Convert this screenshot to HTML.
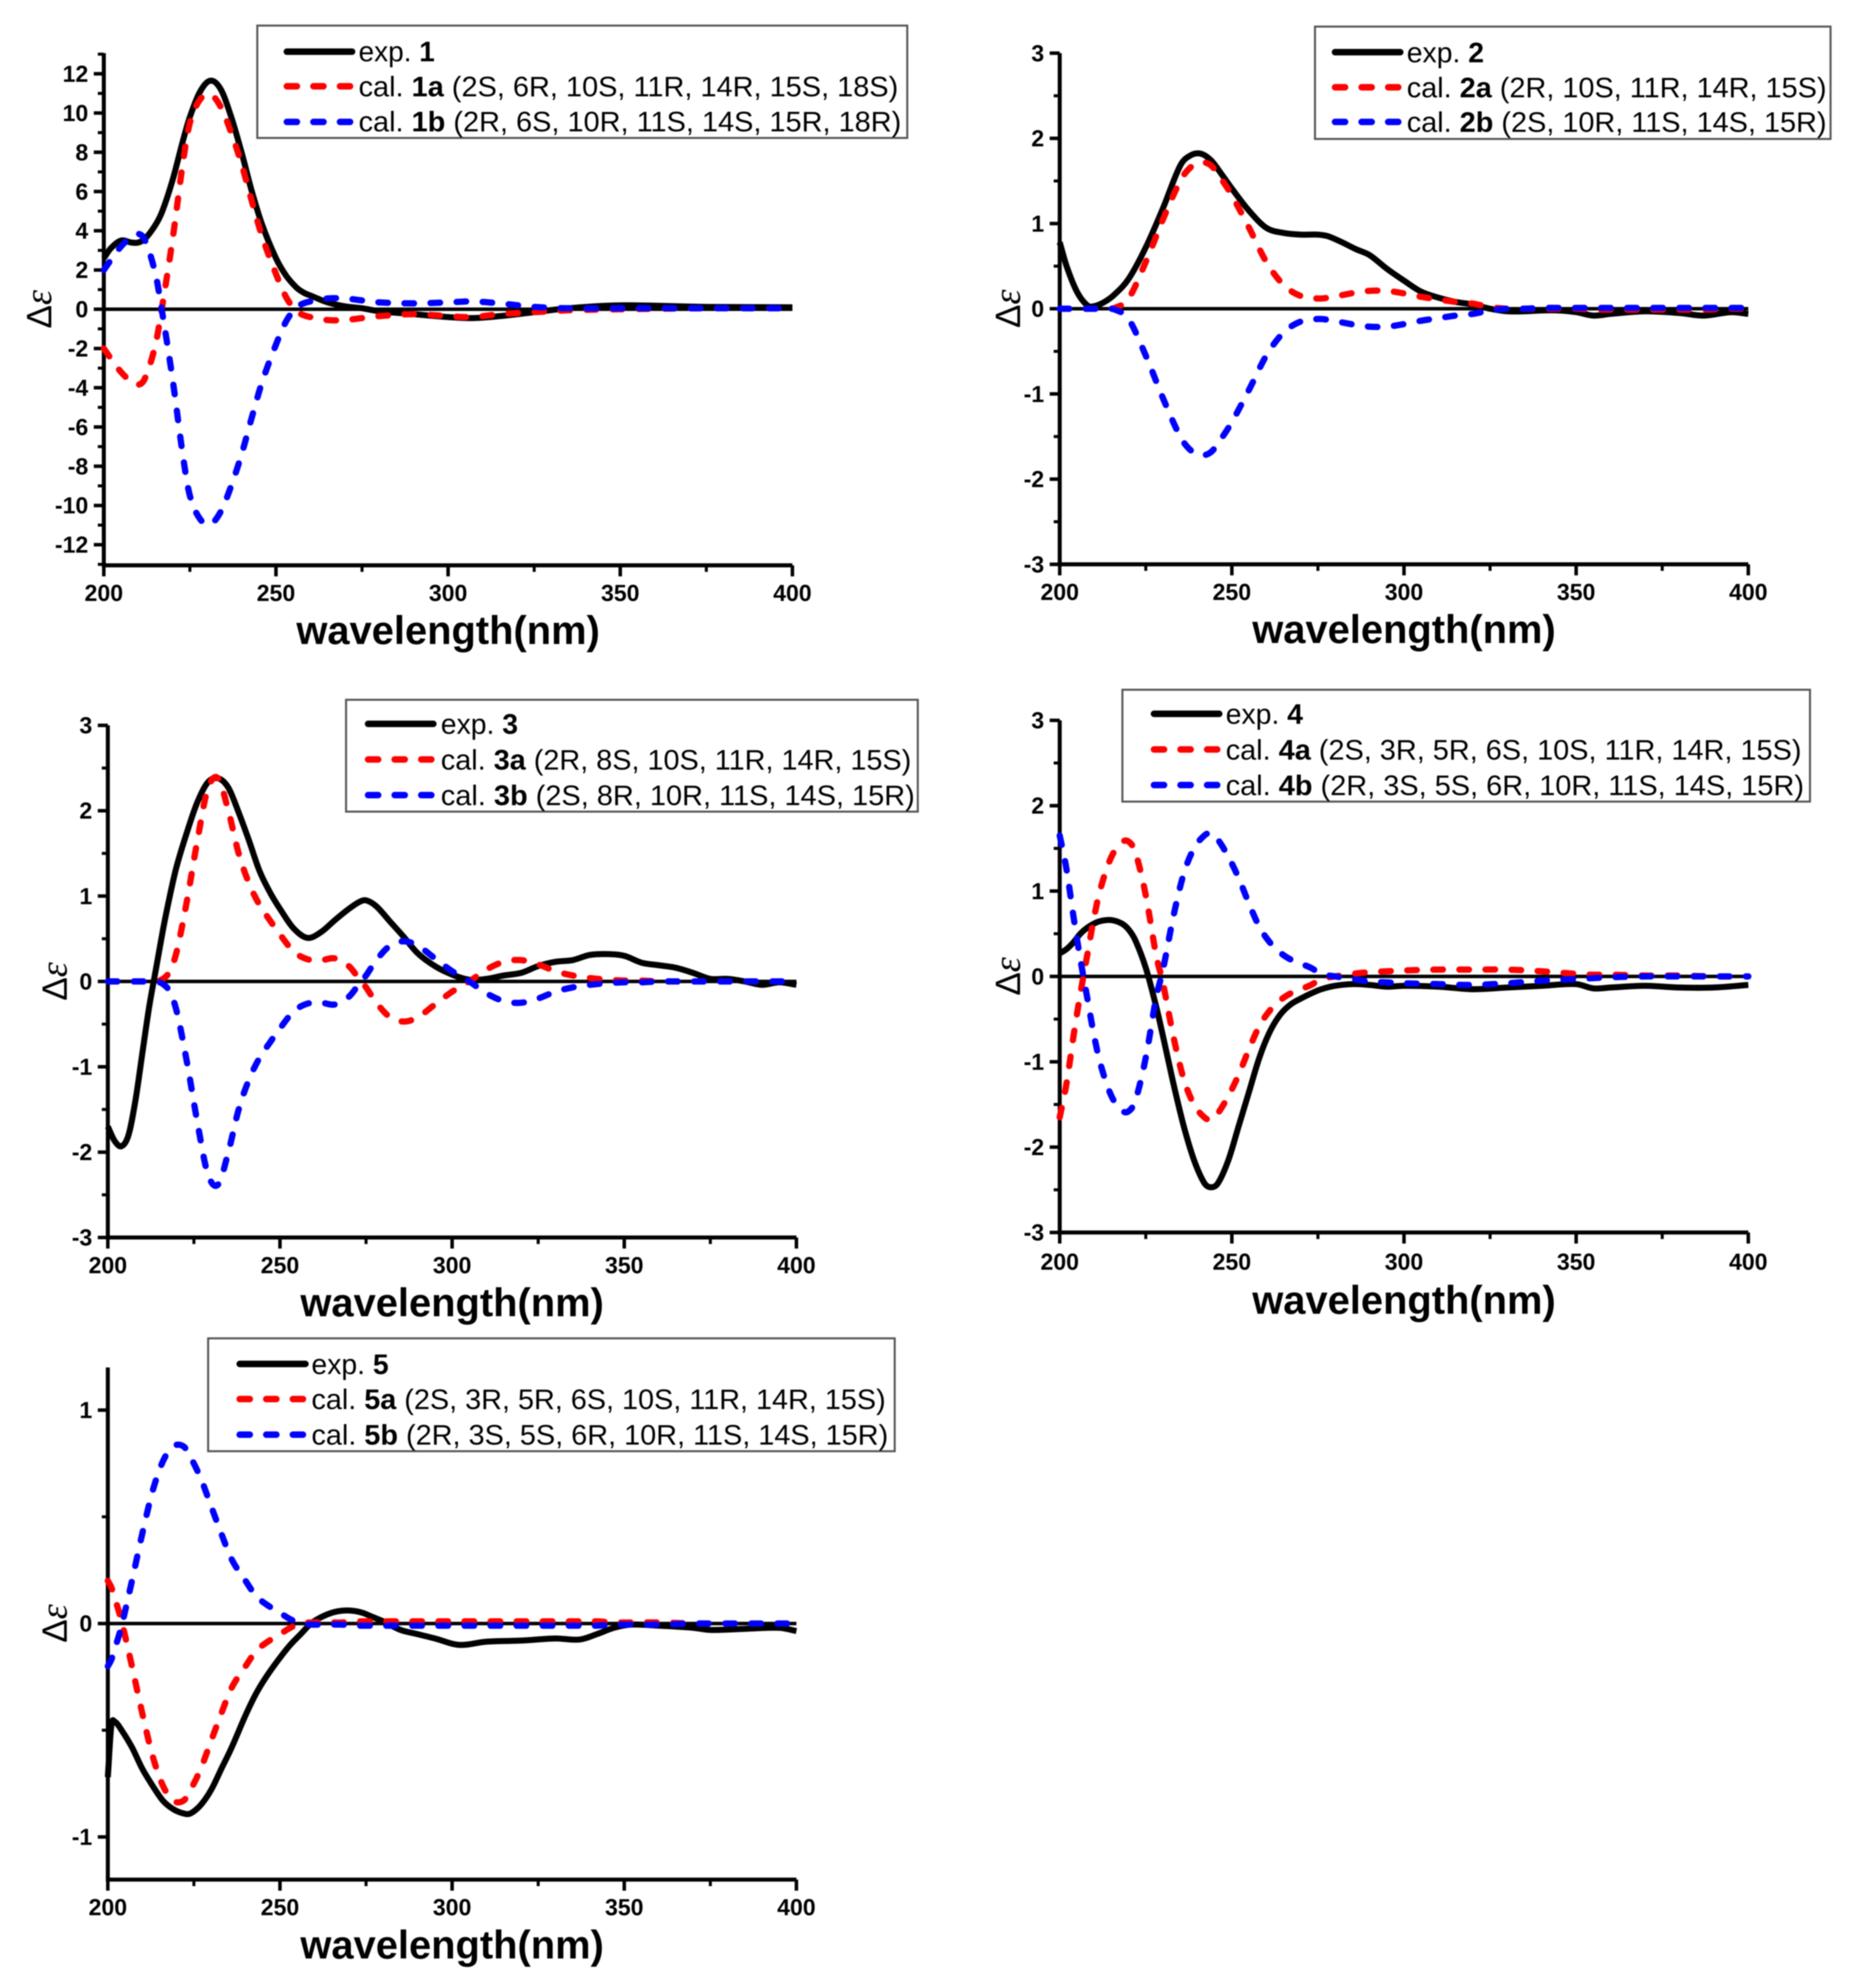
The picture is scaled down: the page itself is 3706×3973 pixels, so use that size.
<!DOCTYPE html>
<html lang="en">
<head>
<meta charset="utf-8">
<title>CD spectra comparison</title>
<style>
html,body{margin:0;padding:0;background:#fff}
svg{display:block;filter:blur(1px)}
text{font-family:"Liberation Sans",sans-serif;fill:#000}
.leg{font-size:56px}
.leg-bold{font-weight:bold}
</style>
</head>
<body>
<svg id="figure" xmlns="http://www.w3.org/2000/svg" width="3706" height="3973" viewBox="0 0 3696.76 3963.09">
<rect width="3706" height="3973" fill="#fff"/>
<g id="plots"></g>

<g>
<rect x="513" y="51" width="1296" height="224" fill="#fff" stroke="#555" stroke-width="4"/>
<line x1="572" x2="702" y1="103" y2="103" stroke="#000" stroke-width="13" stroke-linecap="round"/>
<line x1="572" x2="698" y1="172" y2="172" stroke="#f00" stroke-width="13" stroke-linecap="round" stroke-dasharray="20 33"/>
<line x1="572" x2="698" y1="243" y2="243" stroke="#00f" stroke-width="13" stroke-linecap="round" stroke-dasharray="20 33"/>
<text class="leg" x="715" y="122" textLength="152" lengthAdjust="spacingAndGlyphs">exp. <tspan class="leg-bold">1</tspan></text>
<text class="leg" x="715" y="192" textLength="1076" lengthAdjust="spacingAndGlyphs">cal. <tspan class="leg-bold">1a</tspan> (2S, 6R, 10S, 11R, 14R, 15S, 18S)</text>
<text class="leg" x="715" y="262" textLength="1082" lengthAdjust="spacingAndGlyphs">cal. <tspan class="leg-bold">1b</tspan> (2R, 6S, 10R, 11S, 14S, 15R, 18R)</text>
</g>

<g>
<rect x="2622" y="53" width="1028" height="224" fill="#fff" stroke="#555" stroke-width="4"/>
<line x1="2662" x2="2792" y1="104" y2="104" stroke="#000" stroke-width="13" stroke-linecap="round"/>
<line x1="2662" x2="2788" y1="174" y2="174" stroke="#f00" stroke-width="13" stroke-linecap="round" stroke-dasharray="20 33"/>
<line x1="2662" x2="2788" y1="243" y2="243" stroke="#00f" stroke-width="13" stroke-linecap="round" stroke-dasharray="20 33"/>
<text class="leg" x="2805" y="124" textLength="154" lengthAdjust="spacingAndGlyphs">exp. <tspan class="leg-bold">2</tspan></text>
<text class="leg" x="2805" y="194" textLength="837" lengthAdjust="spacingAndGlyphs">cal. <tspan class="leg-bold">2a</tspan> (2R, 10S, 11R, 14R, 15S)</text>
<text class="leg" x="2805" y="263" textLength="837" lengthAdjust="spacingAndGlyphs">cal. <tspan class="leg-bold">2b</tspan> (2S, 10R, 11S, 14S, 15R)</text>
</g>

<g>
<rect x="690" y="1395" width="1140" height="223" fill="#fff" stroke="#555" stroke-width="4"/>
<line x1="734" x2="864" y1="1443" y2="1443" stroke="#000" stroke-width="13" stroke-linecap="round"/>
<line x1="734" x2="860" y1="1514" y2="1514" stroke="#f00" stroke-width="13" stroke-linecap="round" stroke-dasharray="20 33"/>
<line x1="734" x2="860" y1="1585" y2="1585" stroke="#00f" stroke-width="13" stroke-linecap="round" stroke-dasharray="20 33"/>
<text class="leg" x="879" y="1463" textLength="154" lengthAdjust="spacingAndGlyphs">exp. <tspan class="leg-bold">3</tspan></text>
<text class="leg" x="879" y="1534" textLength="938" lengthAdjust="spacingAndGlyphs">cal. <tspan class="leg-bold">3a</tspan> (2R, 8S, 10S, 11R, 14R, 15S)</text>
<text class="leg" x="879" y="1605" textLength="945" lengthAdjust="spacingAndGlyphs">cal. <tspan class="leg-bold">3b</tspan> (2S, 8R, 10R, 11S, 14S, 15R)</text>
</g>

<g>
<rect x="2238" y="1375" width="1371" height="223" fill="#fff" stroke="#555" stroke-width="4"/>
<line x1="2301" x2="2431" y1="1423" y2="1423" stroke="#000" stroke-width="13" stroke-linecap="round"/>
<line x1="2301" x2="2427" y1="1494" y2="1494" stroke="#f00" stroke-width="13" stroke-linecap="round" stroke-dasharray="20 33"/>
<line x1="2301" x2="2427" y1="1565" y2="1565" stroke="#00f" stroke-width="13" stroke-linecap="round" stroke-dasharray="20 33"/>
<text class="leg" x="2444" y="1443" textLength="154" lengthAdjust="spacingAndGlyphs">exp. <tspan class="leg-bold">4</tspan></text>
<text class="leg" x="2444" y="1514" textLength="1148" lengthAdjust="spacingAndGlyphs">cal. <tspan class="leg-bold">4a</tspan> (2S, 3R, 5R, 6S, 10S, 11R, 14R, 15S)</text>
<text class="leg" x="2444" y="1585" textLength="1153" lengthAdjust="spacingAndGlyphs">cal. <tspan class="leg-bold">4b</tspan> (2R, 3S, 5S, 6R, 10R, 11S, 14S, 15R)</text>
</g>

<g>
<rect x="415" y="2668" width="1369" height="225" fill="#fff" stroke="#555" stroke-width="4"/>
<line x1="478" x2="609" y1="2719" y2="2719" stroke="#000" stroke-width="13" stroke-linecap="round"/>
<line x1="478" x2="604" y1="2789" y2="2789" stroke="#f00" stroke-width="13" stroke-linecap="round" stroke-dasharray="20 33"/>
<line x1="478" x2="604" y1="2860" y2="2860" stroke="#00f" stroke-width="13" stroke-linecap="round" stroke-dasharray="20 33"/>
<text class="leg" x="621" y="2739" textLength="154" lengthAdjust="spacingAndGlyphs">exp. <tspan class="leg-bold">5</tspan></text>
<text class="leg" x="621" y="2809" textLength="1145" lengthAdjust="spacingAndGlyphs">cal. <tspan class="leg-bold">5a</tspan> (2S, 3R, 5R, 6S, 10S, 11R, 14R, 15S)</text>
<text class="leg" x="621" y="2880" textLength="1150" lengthAdjust="spacingAndGlyphs">cal. <tspan class="leg-bold">5b</tspan> (2R, 3S, 5S, 6R, 10R, 11S, 14S, 15R)</text>
</g>
</svg>

<script>
// ---- shared tick values ----
const xTickLabels = [200, 250, 300, 350, 400];
const xMinorTicks = [225, 275, 325, 375];

// ---- panel 1 ----
const p1Wavelengths = [200,202,205,208,210,212,215,217,220,223,225,228,231,234,237,240,243,246,250,253,256,258,260,265,270,275,280,290,300,307,315,325,335,350,375,400];
const p1Exp = [2.6,3.1,3.5,3.4,3.4,3.6,4.3,5.0,6.6,8.6,9.8,11.1,11.65,11.2,9.8,8.0,6.0,4.3,2.6,1.7,1.1,.85,.7,.35,.15,.05,-.1,-.25,-.4,-.45,-.35,-.15,.05,.2,.12,.1];
const p1CalA = [-2,-2.5,-3.2,-3.7,-3.85,-3.5,-1.8,.2,3.6,7.5,9.5,10.7,10.95,10.3,9,7.4,5.5,3.7,1.8,.6,-.1,-.3,-.4,-.55,-.55,-.45,-.35,-.25,-.35,-.4,-.25,-.15,-.05,0,.05,.05];
const p1CalB = [2,2.5,3.2,3.7,3.85,3.5,1.8,-.2,-3.6,-7.5,-9.5,-10.7,-10.95,-10.3,-9,-7.4,-5.5,-3.7,-1.8,-.6,.1,.3,.4,.55,.55,.45,.35,.3,.35,.4,.3,.12,.05,.05,.05,.05];
const p1YTicks = [-12,-10,-8,-6,-4,-2,0,2,4,6,8,10,12];
const p1YMinor = [-13,-11,-9,-7,-5,-3,-1,1,3,5,7,9,11,13];

// ---- panel 2 ----
const p2Wavelengths = [200,202,205,208,210,213,216,220,225,230,235,238,241,244,247,250,255,260,265,270,275,278,282,286,290,295,300,305,310,315,320,325,330,335,340,345,350,355,360,370,380,387,395,400];
const p2Exp = [.78,.5,.2,.04,.03,.08,.17,.35,.72,1.18,1.68,1.8,1.82,1.74,1.58,1.41,1.15,.95,.89,.87,.87,.85,.78,.7,.63,.47,.33,.2,.13,.08,.05,0,-.03,-.03,-.02,-.02,-.04,-.08,-.06,-.03,-.05,-.08,-.04,-.06];
const p2CalA = [0,0,0,0,0,0,.01,.12,.55,1.05,1.5,1.66,1.72,1.68,1.52,1.33,.95,.55,.28,.15,.12,.13,.16,.19,.21,.21,.18,.14,.11,.08,.06,.02,0,0,0,0,0,-.01,-.01,-.01,-.01,-.01,0,0];
const p2CalB = [0,0,0,0,0,0,-.01,-.12,-.55,-1.05,-1.5,-1.66,-1.72,-1.68,-1.52,-1.33,-.95,-.55,-.28,-.15,-.12,-.13,-.16,-.19,-.21,-.21,-.18,-.14,-.11,-.08,-.06,-.02,0,0,.01,.01,.01,.01,.01,.01,.01,.01,.01,.01];
const p2YTicks = [-3,-2,-1,0,1,2,3];
const p2YMinor = [-2.5,-1.5,-.5,.5,1.5,2.5];

// ---- panel 3 ----
const p3Wavelengths = [200,202,204,206,208,210,212,214,216,218,220,223,226,229,232,235,238,241,244,247,250,254,258,262,266,270,273,275,278,282,286,290,295,300,305,310,315,320,325,330,335,340,345,350,355,360,365,370,375,380,385,390,395,400];
const p3Exp = [-1.7,-1.87,-1.93,-1.8,-1.4,-.85,-.3,.15,.6,1.0,1.35,1.75,2.1,2.33,2.38,2.27,1.98,1.65,1.3,1.05,.85,.62,.51,.58,.72,.85,.93,.95,.88,.7,.52,.33,.18,.08,.02,.03,.07,.1,.18,.23,.25,.31,.32,.3,.22,.19,.16,.1,.03,.03,0,-.04,-.01,-.04];
const p3CalA = [0,0,0,0,0,0,0,0,.03,.12,.35,.95,1.65,2.25,2.38,2,1.5,1.15,.9,.72,.55,.35,.26,.25,.27,.18,.03,-.07,-.25,-.42,-.47,-.42,-.27,-.12,0,.14,.23,.25,.2,.12,.07,.04,.02,.01,.01,0,0,0,0,0,0,0,0,0];
const p3CalB = [0,0,0,0,0,0,0,0,-.03,-.12,-.35,-.95,-1.65,-2.25,-2.38,-2,-1.5,-1.15,-.9,-.72,-.55,-.35,-.26,-.25,-.27,-.18,-.03,.07,.25,.42,.47,.42,.27,.12,0,-.14,-.23,-.25,-.2,-.12,-.07,-.04,-.02,-.01,-.01,0,0,0,0,0,0,0,0,0];
const p3YTicks = [-3,-2,-1,0,1,2,3];
const p3YMinor = [-2.5,-1.5,-.5,.5,1.5,2.5];

// ---- panel 4 ----
const p4Wavelengths = [200,202,204,206,208,210,212,215,218,220,222,225,228,230,233,236,239,242,244,246,249,252,255,258,261,264,267,270,273,276,280,285,290,295,300,310,320,330,340,350,355,360,370,380,390,400];
const p4Exp = [.27,.32,.4,.5,.57,.62,.65,.66,.62,.55,.42,.1,-.35,-.7,-1.25,-1.75,-2.15,-2.42,-2.47,-2.42,-2.15,-1.75,-1.35,-.95,-.65,-.45,-.33,-.26,-.2,-.15,-.11,-.09,-.1,-.12,-.11,-.12,-.15,-.13,-.11,-.09,-.14,-.13,-.11,-.13,-.13,-.1];
const p4CalA = [-1.65,-1.25,-.7,-.2,.25,.7,1.05,1.4,1.57,1.58,1.45,.95,.25,-.08,-.7,-1.2,-1.5,-1.65,-1.68,-1.6,-1.4,-1.15,-.85,-.58,-.4,-.28,-.2,-.15,-.1,-.03,0,.03,.05,.06,.07,.08,.08,.08,.06,.03,.02,.02,.01,.01,0,0];
const p4CalB = [1.65,1.25,.7,.2,-.25,-.7,-1.05,-1.4,-1.57,-1.58,-1.45,-.95,-.25,.08,.7,1.2,1.5,1.65,1.68,1.6,1.4,1.15,.85,.58,.4,.28,.2,.15,.1,.03,0,-.03,-.06,-.07,-.08,-.09,-.1,-.08,-.05,-.03,-.02,-.01,0,0,0,0];
const p4YTicks = [-3,-2,-1,0,1,2,3];
const p4YMinor = [-2.5,-1.5,-.5,.5,1.5,2.5];

// ---- panel 5 ----
const p5Wavelengths = [200,201,202,204,207,210,213,216,219,222,224,227,230,233,236,240,243,246,250,253,256,259,262,265,268,271,274,277,280,285,290,295,302,310,320,330,337,342,347,352,360,370,375,385,395,400];
const p5Exp = [-.72,-.48,-.46,-.5,-.58,-.68,-.76,-.83,-.87,-.89,-.89,-.85,-.78,-.68,-.58,-.43,-.33,-.25,-.16,-.1,-.05,0,.03,.05,.06,.06,.05,.03,.01,-.03,-.05,-.07,-.1,-.085,-.08,-.07,-.075,-.05,-.02,-.005,-.01,-.02,-.03,-.025,-.02,-.035];
const p5CalA = [.2,.17,.12,.01,-.2,-.42,-.62,-.76,-.83,-.83,-.78,-.68,-.55,-.42,-.3,-.2,-.13,-.09,-.05,-.02,0,.005,.005,.005,.005,.01,.01,.01,.01,.01,.01,.01,.01,.01,.01,.01,.01,.01,.005,.005,.005,0,0,0,0,0];
const p5CalB = [-.2,-.17,-.12,-.01,.2,.42,.62,.76,.83,.83,.78,.68,.55,.42,.3,.2,.13,.09,.05,.02,0,-.005,-.005,-.005,-.005,-.01,-.01,-.01,-.01,-.01,-.01,-.01,-.01,-.01,-.01,-.01,-.01,-.01,-.005,-.005,-.005,0,0,0,0,0];
const p5YTicks = [-1,0,1];
const p5YMinor = [-.5,.5];

const SVG_NS = 'http://www.w3.org/2000/svg';
const plotsRoot = document.getElementById('plots');

function make(parent, tag, attrs) {
  const el = document.createElementNS(SVG_NS, tag);
  for (const k in attrs) el.setAttribute(k, attrs[k]);
  parent.appendChild(el);
  return el;
}

function smoothPath(xs, ys, xScale, yScale) {
  const pts = xs.map((x, i) => [xScale(x), yScale(ys[i])]);
  let d = 'M' + pts[0][0].toFixed(1) + ' ' + pts[0][1].toFixed(1);
  for (let i = 0; i < pts.length - 1; i++) {
    const p0 = pts[Math.max(i - 1, 0)];
    const p1 = pts[i];
    const p2 = pts[i + 1];
    const p3 = pts[Math.min(i + 2, pts.length - 1)];
    const h = p2[0] - p1[0];
    const m1 = (p2[1] - p0[1]) / Math.max(p2[0] - p0[0], 1e-6);
    const m2 = (p3[1] - p1[1]) / Math.max(p3[0] - p1[0], 1e-6);
    const c1x = p1[0] + h / 3;
    const c1y = p1[1] + m1 * h / 3;
    const c2x = p2[0] - h / 3;
    const c2y = p2[1] - m2 * h / 3;
    d += 'C' + c1x.toFixed(1) + ' ' + c1y.toFixed(1) + ' ' + c2x.toFixed(1) + ' ' + c2y.toFixed(1) + ' ' + p2[0].toFixed(1) + ' ' + p2[1].toFixed(1);
  }
  return d;
}

function drawPanel(cfg) {
  const g = make(plotsRoot, 'g', {});
  
  

  const xScale = v => cfg.left + (v - 200) / 200 * (cfg.right - cfg.left);
  const yScale = v => cfg.bottom - (v - cfg.yMin) / (cfg.yMax - cfg.yMin) * (cfg.bottom - cfg.top);
  const axisBottom = cfg.bottom;
  const tickShift = cfg.tickShift || 0;
  const titleShift = cfg.titleShift || 0;

  // y axis
  const yAxis = make(g, 'line', {x1: cfg.left, x2: cfg.left, y1: cfg.top, y2: axisBottom + 3, stroke: '#000', 'stroke-width': 8});
  
  

  // x axis
  const xAxis = make(g, 'line', {x1: cfg.left - 4, x2: cfg.right, y1: axisBottom, y2: axisBottom, stroke: '#000', 'stroke-width': 8});
  
  

  cfg.yTicks.forEach(v => {
    const t = make(g, 'line', {x1: cfg.left - 20, x2: cfg.left, y1: yScale(v), y2: yScale(v), stroke: '#000', 'stroke-width': 7});
    
    
    const lab = make(g, 'text', {x: cfg.left - 31, y: yScale(v) + 16, 'text-anchor': 'end', 'font-size': 46, 'font-weight': 'bold'});
    
    
    lab.textContent = String(v);
  });
  cfg.yMinor.forEach(v => {
    const t = make(g, 'line', {x1: cfg.left - 12, x2: cfg.left, y1: yScale(v), y2: yScale(v), stroke: '#000', 'stroke-width': 6});
    
    
  });
  xTickLabels.forEach(v => {
    const t = make(g, 'line', {x1: xScale(v), x2: xScale(v), y1: axisBottom, y2: axisBottom + 22, stroke: '#000', 'stroke-width': 7});
    
    
    const lab = make(g, 'text', {x: xScale(v), y: axisBottom + 71 + tickShift, 'text-anchor': 'middle', 'font-size': 46, 'font-weight': 'bold'});
    
    
    lab.textContent = String(v);
  });
  xMinorTicks.forEach(v => {
    const t = make(g, 'line', {x1: xScale(v), x2: xScale(v), y1: axisBottom, y2: axisBottom + 13, stroke: '#000', 'stroke-width': 6});
    
    
  });

  // axis titles
  const xTitle = make(g, 'text', {x: (cfg.left + cfg.right) / 2, y: axisBottom + 157 + titleShift, 'text-anchor': 'middle', 'font-size': 79.5, 'font-weight': 'bold'});
  
  
  xTitle.textContent = 'wavelength(nm)';

  const yTitle = make(g, 'text', {transform: 'translate(' + (cfg.left - cfg.yTitleOffset) + ' ' + yScale(0) + ') rotate(-90)', 'text-anchor': 'middle', 'font-size': 70});
  
  
  yTitle.setAttribute('y', '19');
  const delta = make(yTitle, 'tspan', {});
  delta.textContent = '\u0394';
  const eps = make(yTitle, 'tspan', {'font-family': '"Liberation Serif",serif', 'font-style': 'italic', 'font-size': 76});
  eps.textContent = '\u03B5';

  // zero line
  const zero = make(g, 'line', {x1: cfg.left, x2: cfg.right, y1: yScale(0), y2: yScale(0), stroke: '#000', 'stroke-width': 7});
  
  

  // series
  const expPath = make(g, 'path', {d: smoothPath(cfg.wl, cfg.exp, xScale, yScale), fill: 'none', stroke: '#000', 'stroke-width': 12, 'stroke-linejoin': 'round'});
  
  

  const aPath = make(g, 'path', {d: smoothPath(cfg.wl, cfg.a, xScale, yScale), fill: 'none', stroke: '#f00', 'stroke-width': 12.5, 'stroke-linecap': 'round', 'stroke-dasharray': '19 33'});
  
  

  const bPath = make(g, 'path', {d: smoothPath(cfg.wl, cfg.b, xScale, yScale), fill: 'none', stroke: '#00f', 'stroke-width': 12.5, 'stroke-linecap': 'round', 'stroke-dasharray': '19 33'});
  
  
}

drawPanel({id: 1, left: 207, right: 1580, top: 106, bottom: 1127, yMin: -13.05, yMax: 13.05, yTitleOffset: 124, wl: p1Wavelengths, exp: p1Exp, a: p1CalA, b: p1CalB, yTicks: p1YTicks, yMinor: p1YMinor});
drawPanel({id: 2, left: 2113, right: 3486, top: 106, bottom: 1125, yMin: -3, yMax: 3, yTitleOffset: 98, wl: p2Wavelengths, exp: p2Exp, a: p2CalA, b: p2CalB, yTicks: p2YTicks, yMinor: p2YMinor});
drawPanel({id: 3, left: 215, right: 1588, top: 1446, bottom: 2467, yMin: -3, yMax: 3, yTitleOffset: 101, wl: p3Wavelengths, exp: p3Exp, a: p3CalA, b: p3CalB, yTicks: p3YTicks, yMinor: p3YMinor});
drawPanel({id: 4, left: 2113, right: 3486, top: 1436, bottom: 2457, yMin: -3, yMax: 3, yTitleOffset: 98, tickShift: 3, titleShift: 5, wl: p4Wavelengths, exp: p4Exp, a: p4CalA, b: p4CalB, yTicks: p4YTicks, yMinor: p4YMinor});
drawPanel({id: 5, left: 215, right: 1588, top: 2726, bottom: 3747, yMin: -1.2, yMax: 1.2, yTitleOffset: 101, wl: p5Wavelengths, exp: p5Exp, a: p5CalA, b: p5CalB, yTicks: p5YTicks, yMinor: p5YMinor});
</script>
</body>
</html>
